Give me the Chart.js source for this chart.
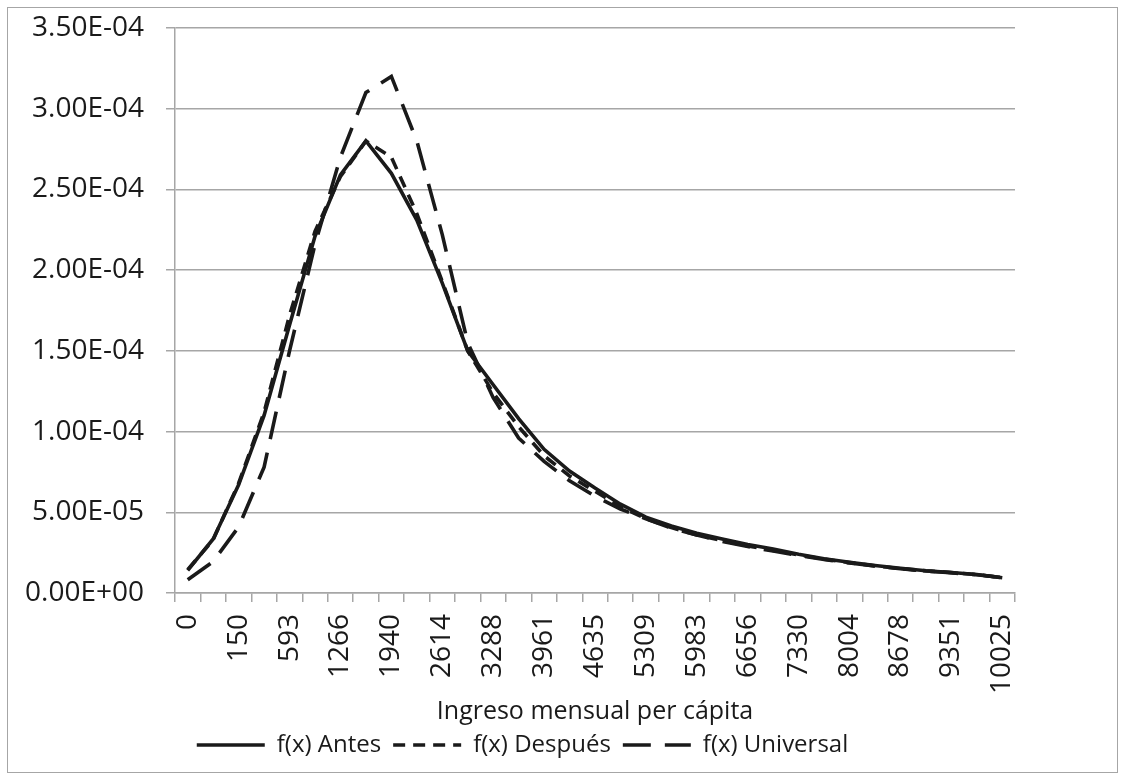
<!DOCTYPE html>
<html><head><meta charset="utf-8">
<script src="https://cdn.jsdelivr.net/npm/chart.js@4.4.1/dist/chart.umd.min.js"></script>
<style>html,body{margin:0;padding:0;background:#fff;}#wrap{position:absolute;left:0;top:0;width:1125px;height:780px;}</style>
</head><body><div id="wrap"><canvas id="c" width="1125" height="780"></canvas></div>
<script>
const categories = ['0','75','150','371','593','930','1266','1603','1940','2277','2614','2951','3288','3625','3961','4298','4635','4972','5309','5646','5983','6319','6656','6993','7330','7667','8004','8341','8678','9014','9351','9688','10025'];
const antes = [1.4e-5,3.35e-5,6.7e-5,1.10e-4,1.66e-4,2.21e-4,2.59e-4,2.80e-4,2.60e-4,2.31e-4,1.92e-4,1.50e-4,1.29e-4,1.08e-4,8.9e-5,7.55e-5,6.5e-5,5.5e-5,4.7e-5,4.15e-5,3.7e-5,3.35e-5,3.0e-5,2.72e-5,2.4e-5,2.12e-5,1.9e-5,1.7e-5,1.53e-5,1.38e-5,1.27e-5,1.15e-5,9.5e-6];
const despues = [1.45e-5,3.3e-5,6.8e-5,1.12e-4,1.72e-4,2.24e-4,2.58e-4,2.80e-4,2.70e-4,2.35e-4,1.93e-4,1.50e-4,1.24e-4,1.03e-4,8.5e-5,7.25e-5,6.3e-5,5.35e-5,4.6e-5,4.05e-5,3.6e-5,3.25e-5,2.92e-5,2.64e-5,2.36e-5,2.1e-5,1.88e-5,1.68e-5,1.52e-5,1.37e-5,1.26e-5,1.14e-5,9.5e-6];
const universal = [8.2e-6,1.95e-5,4.1e-5,7.8e-5,1.5e-4,2.16e-4,2.70e-4,3.10e-4,3.20e-4,2.80e-4,2.22e-4,1.55e-4,1.21e-4,9.6e-5,8.15e-5,6.95e-5,6.0e-5,5.2e-5,4.6e-5,4.02e-5,3.6e-5,3.2e-5,2.88e-5,2.6e-5,2.32e-5,2.07e-5,1.86e-5,1.67e-5,1.5e-5,1.36e-5,1.25e-5,1.13e-5,9.5e-6];
const seriesNames = ['f(x) Antes','f(x) Después','f(x) Universal'];
const yMin = 0, yMax = 3.5e-4, yStep = 5e-5;
const xTitle = 'Ingreso mensual per cápita';

const FAMILY = '"Open Sans", sans-serif';
const INK = '#1a1a1a';
const GRID = '#a6a6a6';

function fmt(v){
  if (Math.abs(v) < 1e-12) return '0.00E+00';
  const parts = v.toExponential(2).split('e');
  const n = parseInt(parts[1], 10);
  return parts[0] + 'E' + (n < 0 ? '-' : '+') + String(Math.abs(n)).padStart(2, '0');
}

const framePlugin = {
  id: 'frame',
  beforeDraw(chart){
    const ctx = chart.ctx;
    ctx.save();
    ctx.fillStyle = '#fff';
    ctx.fillRect(0, 0, chart.width, chart.height);
    ctx.strokeStyle = GRID;
    ctx.lineWidth = 1;
    ctx.strokeRect(7.5, 7.5, 1110, 765);
    ctx.restore();
  }
};

const lineDs = (label, data, dash) => ({
  label, data, borderColor: INK, backgroundColor: INK, borderWidth: 3.6,
  borderDash: dash, pointRadius: 0, pointHoverRadius: 0, tension: 0, fill: false, yAxisID: 'y'
});

new Chart(document.getElementById('c'), {
  type: 'line',
  data: {
    labels: categories,
    datasets: [
      lineDs(seriesNames[0], antes, []),
      lineDs(seriesNames[1], despues, [12, 8]),
      lineDs(seriesNames[2], universal, [28, 14])
    ]
  },
  options: {
    responsive: false, animation: false, devicePixelRatio: 1,
    layout: { padding: { left: 0, right: 80, top: 28, bottom: 13 } },
    plugins: {
      legend: {
        position: 'bottom', align: 'center',
        labels: {
          usePointStyle: true, pointStyle: 'line', pointStyleWidth: 68, padding: 12, color: INK,
          font: { size: 24, family: FAMILY },
          generateLabels(chart){
            const items = Chart.defaults.plugins.legend.labels.generateLabels(chart);
            items.forEach(it => {
              const ds = chart.data.datasets[it.datasetIndex];
              it.lineDash = ds.borderDash;
              it.lineWidth = ds.borderWidth;
              it.strokeStyle = ds.borderColor;
              it.fillStyle = ds.borderColor;
              it.pointStyle = 'line';
            });
            return items;
          }
        }
      },
      tooltip: { enabled: false }
    },
    scales: {
      x: {
        type: 'category', offset: true,
        grid: { offset: true, drawOnChartArea: false, drawTicks: true, tickLength: 9, color: GRID, lineWidth: 1.5 },
        border: { display: true, color: GRID, width: 1.5 },
        ticks: {
          autoSkip: false, maxRotation: 90, minRotation: 90, padding: 12, color: INK,
          font: { size: 28, family: FAMILY },
          callback(v, i){ return i % 2 === 0 ? this.getLabelForValue(v) : ''; }
        },
        title: { display: true, text: xTitle, color: INK, font: { size: 25, family: FAMILY, lineHeight: 0.7 }, padding: { top: 0, bottom: 0 } },
        afterFit(a){ a.height = 128; }
      },
      y: {
        position: 'left', min: yMin, max: yMax,
        ticks: { stepSize: yStep, padding: 22, color: INK, font: { size: 28, family: FAMILY }, callback: v => fmt(v) },
        grid: { color: GRID, lineWidth: 1.5, tickLength: 9, drawTicks: true },
        border: { display: true, color: GRID, width: 1.5 },
        afterFit(a){ a.width = 175; a.paddingTop = 0; a.paddingBottom = 0; }
      },
      y2: {
        position: 'right', display: true,
        ticks: { display: false }, grid: { display: false, drawTicks: false }, border: { display: false },
        afterFit(a){ a.width = 30; a.paddingTop = 0; a.paddingBottom = 0; }
      }
    }
  },
  plugins: [framePlugin]
});
</script>
</body></html>
